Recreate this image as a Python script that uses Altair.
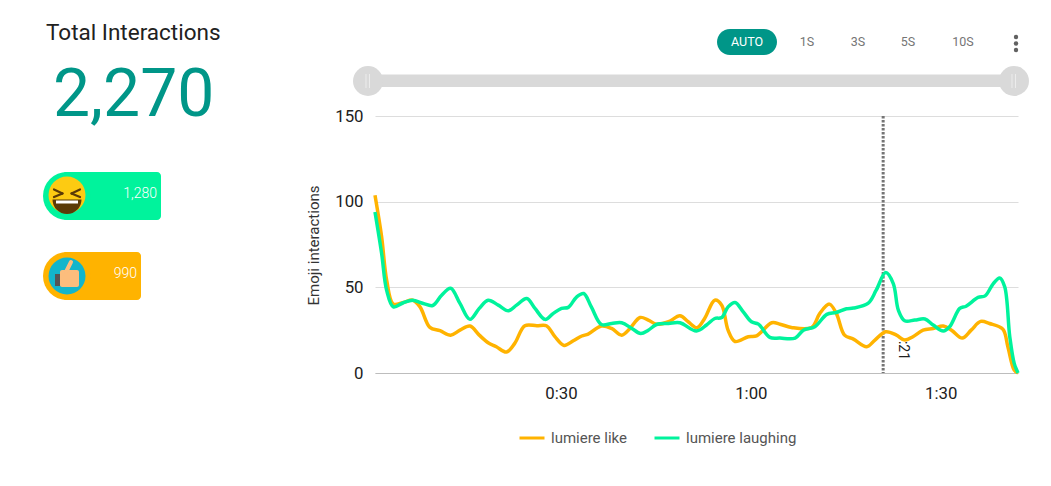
import altair as alt
import pandas as pd

LIKE = "lumiere like"
LAUGH = "lumiere laughing"
laugh_t = [0.63,1.68,2.47,3.53,5.1,6.58,8.26,9.74,11.16,12.58,14.05,15.63,17.1,18.5,20.1,21.7,23,24.6,25.9,27.5,28.8,30.1,31.16,32.5,33.6,34.8,36.4,38,39.6,41.2,42.6,43.8,45.1,47,48.8,51.4,53,54.3,55.4,56.4,57.5,58.8,60.1,61.2,63,64.6,67,68.3,70.1,72,73.5,75.1,76.2,78.5,79.8,81.3,82.5,83.3,84.3,85.9,87.5,88.8,90.4,91.4,93,94,95.9,97,98.3,99.3,100.1,100.9,101.6,102.2]
laugh_v = [94,69.7,48.3,38.6,41,42.5,40.6,39.4,45.4,49.5,40.6,31.3,37.7,42.5,39.6,36.3,39.6,43.5,37.7,31.3,34.8,37.7,38.3,44.5,46.4,38.6,28.3,28.9,29.3,26,23.1,25,28.3,28.9,29.3,24.5,28,31.8,32.4,38.6,41.2,35.7,29.9,28.5,20.8,20.4,20.4,25,27,34.2,35.3,37.5,37.9,40.6,48.3,58.6,52.2,36.7,30.5,30.9,31.5,28,24.5,27,37.7,39,44.1,45,52.2,55.5,50.3,21.2,5.6,0]
like_t = [0.63,1.68,2.47,3.53,5.1,6.58,7.74,9.3,10.9,12.58,14.05,15.63,17.1,18.5,19.8,21.4,22.7,24.3,26.2,27.7,29.05,30.5,31.95,33.3,34.3,36.4,38,39.6,40.9,42.5,43.8,45.1,47,48.8,50.1,51.5,52.7,54.3,55.4,56.4,57.5,59.6,60.9,63.3,64.6,66.4,69.6,70.9,72.4,73.5,74.8,76.2,78.3,79.6,81.3,83,84.3,85.6,87.2,88.8,90.4,91.7,93.4,94.8,96.3,97.7,99.8,100.6,101.6,102.2]
like_v = [103.7,79.4,54.2,40.2,41.2,42.5,38.6,26.6,24.7,22.1,25,27.4,22.1,17.7,15.3,12.2,17.3,27.6,27.6,27.6,21.2,16.1,18.8,21.6,22.7,27.4,26,22.1,26,32.4,30.9,28.5,29.9,33.4,29.9,26.4,31.8,42.5,39.6,25,18.4,21.2,21.7,29.3,28.5,26.6,26.6,34.8,40.2,34.8,22.1,19.8,15.3,19.2,24.1,22.1,19.2,21.2,25,26,27.4,25,20.4,25,30.1,28.9,25.6,15.3,1.7,0]
marker_t = [80.9]
x_ticks = [30, 60, 90]
y_ticks = [0, 50, 100, 150]
speed_labels = ["1S", "3S", "5S", "10S"]

TEAL = "#009688"
GREEN = "#00f39c"
AMBER = "#ffb300"
OX, OY = 375, 116
one = alt.Data(values=[{"a": 1}])

def px(v): return alt.value(v - OX)
def py(v): return alt.value(v - OY)

def text(s, x, y, size, color, align="left", weight=400, font="Roboto", **kw):
    return alt.Chart(one).mark_text(text=s, fontSize=size, color=color, align=align, baseline="middle",
                                    fontWeight=weight, font=font, **kw).encode(x=px(x), y=py(y))

def rect(x, x2, y, y2, color, r=0):
    return alt.Chart(one).mark_rect(color=color, cornerRadius=r).encode(x=px(x), x2=px(x2), y=py(y), y2=py(y2))

def circle(x, y, r, color):
    return alt.Chart(one).mark_point(filled=True, color=color, opacity=1, size=r * r * 4, shape="circle").encode(x=px(x), y=py(y))

def seg(x, y, x2, y2, color, w, cap="round"):
    return alt.Chart(one).mark_rule(color=color, strokeWidth=w, strokeCap=cap).encode(x=px(x), x2=px(x2), y=py(y), y2=py(y2))

def half(x, y, r, color, t0=1.5708, t1=4.7124):
    return alt.Chart(one).mark_arc(color=color, theta=t0, theta2=t1, radius=r).encode(x=px(x), y=py(y))

BROWN = "#5a3a07"
decor = [
    text("Total Interactions", 46, 32.5, 22.5, "#212121"),
    text("2,270", 53, 96, 66, TEAL, weight=400),
    # laughing badge
    rect(62, 161, 172, 220, GREEN, 4), circle(67, 196, 24, GREEN), circle(67, 195, 18.5, "#fdcb12"),
    half(67, 199.5, 14.5, BROWN),
    seg(56, 202, 78, 202, "#ffffff", 3, "butt"),
    seg(54, 189.5, 62.5, 193.5, BROWN, 2.2), seg(54, 197, 62.5, 193.5, BROWN, 2.2),
    seg(80, 189.5, 71.5, 193.5, BROWN, 2.2), seg(80, 197, 71.5, 193.5, BROWN, 2.2),
    text("1,280", 157, 194, 14, "#ffffff", align="right", weight=300),
    # like badge
    rect(62, 141, 252, 300, AMBER, 4), circle(67, 276, 24, AMBER), circle(67, 276, 18.5, "#12b5cb"),
    rect(55, 60, 274, 286, "#555555"), rect(60, 79, 270, 287, "#fcbd7d", 2),
    seg(66, 272, 71, 262, "#fcbd7d", 4),
    text("990", 137, 274, 14, "#ffffff", align="right", weight=300),
    # range control
    rect(717, 777, 29, 55, TEAL, 13), text("AUTO", 747, 41.5, 12.5, "#ffffff", align="center"),
    text(speed_labels[0], 807, 41.5, 12.5, "#757575", align="center"),
    text(speed_labels[1], 858, 41.5, 12.5, "#757575", align="center"),
    text(speed_labels[2], 908, 41.5, 12.5, "#757575", align="center"),
    text(speed_labels[3], 963, 41.5, 12.5, "#757575", align="center"),
    circle(1016, 37, 2.2, "#616161"), circle(1016, 43.5, 2.2, "#616161"), circle(1016, 50, 2.2, "#616161"),
    rect(368, 1014, 74.5, 87, "#d9d9d9"),
    circle(368, 81, 15, "#d9d9d9"), circle(1014, 81, 15, "#d9d9d9"),
    seg(366, 74, 366, 88, "#ececec", 1, "butt"), seg(369.5, 74, 369.5, 88, "#ececec", 1, "butt"),
    seg(1012, 74, 1012, 88, "#ececec", 1, "butt"), seg(1015.5, 74, 1015.5, 88, "#ececec", 1, "butt"),
]

df = pd.concat([
    pd.DataFrame({"t": like_t, "v": like_v, "s": LIKE}),
    pd.DataFrame({"t": laugh_t, "v": laugh_v, "s": LAUGH}),
])

x_scale = alt.Scale(domain=[0.63, 102.2], nice=False, zero=False)
y_scale = alt.Scale(domain=[0, 150], nice=False)

base_axes = alt.Chart(df).mark_line(interpolate="catmull-rom", strokeWidth=3.5, clip=False).encode(
    x=alt.X("t:Q", scale=x_scale, axis=alt.Axis(
        values=x_ticks, title=None, grid=False, ticks=False, domainColor="#bdbdbd", domainWidth=1,
        labelExpr="floor(datum.value/60)+':'+(datum.value%60==0?'00':datum.value%60)",
        labelFont="Roboto", labelFontSize=16.8, labelColor="#212121", labelPadding=12)),
    y=alt.Y("v:Q", scale=y_scale, axis=alt.Axis(
        values=y_ticks, title="Emoji interactions", titleFont="Roboto", titleFontSize=15, titleFontWeight=400,
        titleColor="#333333", titleX=-54, titleY=129, grid=True, gridColor="#dddddd", ticks=False, domain=False,
        labelFont="Roboto", labelFontSize=16.8, labelColor="#212121", labelPadding=12)),
    color=alt.Color("s:N", sort=None, scale=alt.Scale(domain=[LIKE, LAUGH], range=[AMBER, GREEN]),
                    legend=alt.Legend(orient="none", legendX=143, legendY=308, direction="horizontal", title=None,
                                      symbolType="stroke", symbolSize=625, symbolStrokeWidth=3, labelFont="Roboto",
                                      labelFontSize=15, labelColor="#555555", labelOffset=5, columnPadding=21)),
    detail="s:N",
)

marker_df = pd.DataFrame({"t": marker_t})
marker = alt.Chart(marker_df).mark_rule(color="#757575", strokeWidth=3, strokeDash=[2.5, 1.5]).encode(x=alt.X("t:Q", scale=x_scale))
marker_label = alt.Chart(marker_df).mark_text(text=":21", angle=90, fontSize=14, font="Roboto", color="#212121", baseline="middle", align="center").encode(
    x=alt.X("t:Q", scale=x_scale), xOffset=alt.value(20), y=py(350.5))

chart = alt.layer(marker, marker_label, base_axes, *decor).resolve_scale(x="shared", y="shared").properties(
    width=643, height=257,
    padding={"left": OX - 8, "top": OY - 8, "right": 20, "bottom": 100},
    autosize=alt.AutoSizeParams(type="none"),
    background="#ffffff",
).configure_view(stroke=None)

chart.save("out.html", embed_options={"renderer": "svg", "actions": False})
